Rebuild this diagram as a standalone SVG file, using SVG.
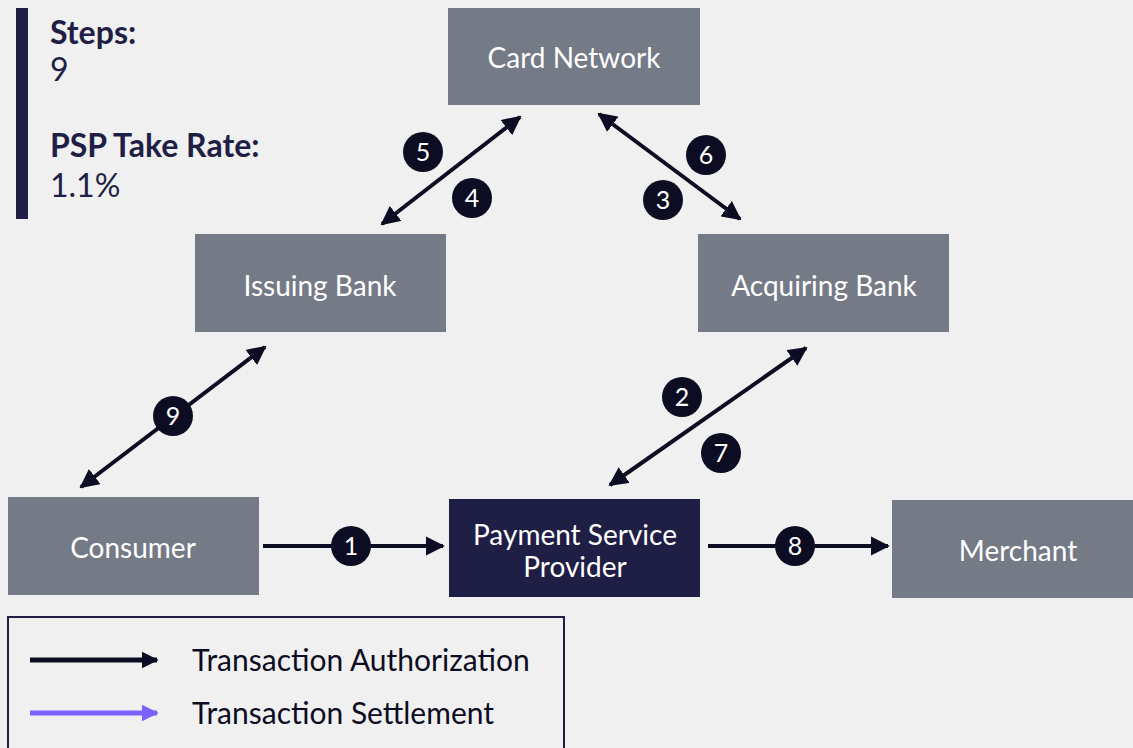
<svg xmlns="http://www.w3.org/2000/svg" width="1133" height="748" viewBox="0 0 1133 748">
<style>
.node{fill:#757a87}
.psp{fill:#1f1e45}
.lbl{font-family:Lato,"Noto Sans",sans-serif;font-size:28px;fill:#ffffff;text-anchor:middle}
.conn{stroke:#0c0c22;stroke-width:4;fill:none}
.num{fill:#0c0c22}
.numt{font-family:Lato,"Noto Sans",sans-serif;font-size:25px;fill:#ffffff;text-anchor:middle}
.hdr{font-family:Lato,"Noto Sans",sans-serif;font-size:32px;fill:#1f1e45}
.leg{font-family:Lato,"Noto Sans",sans-serif;font-size:30px;fill:#0c0c22}
</style>
<defs>
<marker id="ah" viewBox="0 0 10 10" refX="9" refY="5" markerWidth="4.8" markerHeight="4.8" markerUnits="strokeWidth" orient="auto-start-reverse">
<path d="M0,0 L10,5 L0,10 z" fill="#0c0c22"/>
</marker>
<marker id="ahl" viewBox="0 0 10 10" refX="9" refY="5" markerWidth="3.4" markerHeight="3.8" markerUnits="strokeWidth" orient="auto">
<path d="M0,0 L10,5 L0,10 z" fill="#0c0c22"/>
</marker>
<marker id="ahp" viewBox="0 0 10 10" refX="9" refY="5" markerWidth="3.4" markerHeight="3.8" markerUnits="strokeWidth" orient="auto">
<path d="M0,0 L10,5 L0,10 z" fill="#7b61ff"/>
</marker>
</defs>
<rect width="1133" height="748" fill="#f0f0f0"/>

<g id="summary">
<rect x="16" y="8" width="12" height="211" fill="#1f1e45"/>
<text class="hdr" x="50" y="44" font-weight="bold">Steps:</text>
<text class="hdr" x="50" y="81">9</text>
<text class="hdr" x="50" y="157" font-weight="bold">PSP Take Rate:</text>
<text class="hdr" x="50" y="197">1.1%</text>
</g>

<g id="connectors">
<line class="conn" x1="382" y1="224" x2="520" y2="117" marker-start="url(#ah)" marker-end="url(#ah)"/>
<line class="conn" x1="599" y1="114" x2="740" y2="219" marker-start="url(#ah)" marker-end="url(#ah)"/>
<line class="conn" x1="610" y1="485" x2="806" y2="348" marker-start="url(#ah)" marker-end="url(#ah)"/>
<line class="conn" x1="81" y1="487" x2="265" y2="347" marker-start="url(#ah)" marker-end="url(#ah)"/>
<line class="conn" x1="263" y1="546" x2="443" y2="546" marker-end="url(#ah)"/>
<line class="conn" x1="708" y1="546" x2="888" y2="546" marker-end="url(#ah)"/>
</g>

<g id="steps">
<circle class="num" cx="423" cy="152" r="20"/><text class="numt" x="423" y="161">5</text>
<circle class="num" cx="472" cy="198" r="20"/><text class="numt" x="472" y="207">4</text>
<circle class="num" cx="706" cy="155" r="20"/><text class="numt" x="706" y="164">6</text>
<circle class="num" cx="663" cy="200" r="20"/><text class="numt" x="663" y="209">3</text>
<circle class="num" cx="682" cy="397" r="20"/><text class="numt" x="682" y="406">2</text>
<circle class="num" cx="721" cy="453" r="20"/><text class="numt" x="721" y="462">7</text>
<circle class="num" cx="173" cy="416" r="20"/><text class="numt" x="173" y="425">9</text>
<circle class="num" cx="351" cy="546" r="20"/><text class="numt" x="351" y="555">1</text>
<circle class="num" cx="795" cy="546" r="20"/><text class="numt" x="795" y="555">8</text>
</g>

<g id="card-network"><rect class="node" x="448" y="8" width="252" height="97"/><text class="lbl" x="574" y="68">Card Network</text></g>
<g id="issuing-bank"><rect class="node" x="195" y="234" width="251" height="98"/><text class="lbl" x="320" y="296">Issuing Bank</text></g>
<g id="acquiring-bank"><rect class="node" x="698" y="234" width="251" height="98"/><text class="lbl" x="824" y="296">Acquiring Bank</text></g>
<g id="consumer"><rect class="node" x="8" y="497" width="251" height="98"/><text class="lbl" x="133" y="558">Consumer</text></g>
<g id="psp"><rect class="psp" x="449" y="499" width="251" height="98"/><text class="lbl" x="575" y="545">Payment Service</text><text class="lbl" x="575" y="577">Provider</text></g>
<g id="merchant"><rect class="node" x="892" y="500" width="241" height="98"/><text class="lbl" x="1018" y="561">Merchant</text></g>

<g id="legend">
<rect x="8" y="617" width="556" height="140" fill="none" stroke="#1f1e45" stroke-width="2"/>
<line x1="30" y1="660" x2="157" y2="660" stroke="#0c0c22" stroke-width="5" marker-end="url(#ahl)"/>
<text class="leg" x="192" y="671">Transaction Authorization</text>
<line x1="30" y1="713" x2="157" y2="713" stroke="#7b61ff" stroke-width="5" marker-end="url(#ahp)"/>
<text class="leg" x="192" y="724">Transaction Settlement</text>
</g>
</svg>
